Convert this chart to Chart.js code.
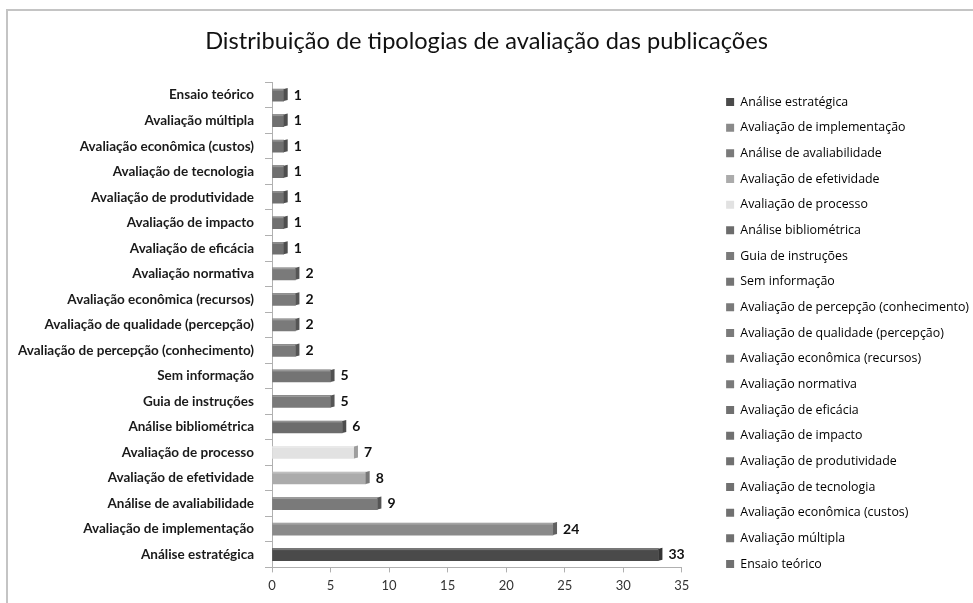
<!DOCTYPE html>
<html>
<head>
<meta charset="utf-8">
<script src="https://cdn.jsdelivr.net/npm/chart.js@4.4.1/dist/chart.umd.min.js"></script>
<style>
  html, body { margin: 0; padding: 0; background: #fff; }
  #wrap { position: relative; width: 973px; height: 603px; overflow: hidden; }
  #frame { position: absolute; left: 6px; top: 9px; right: -5px; bottom: -5px;
           border-left: 2px solid #c4c4c4; border-top: 2px solid #c4c4c4; pointer-events: none; }
  canvas { position: absolute; left: 0; top: 0; }
</style>
</head>
<body>
<div id="wrap">
  <canvas id="chart" width="973" height="603"></canvas>
  <div id="frame"></div>
</div>
<script>
// data, in legend order (bottom bar first)
const categories = [
  'Análise estratégica',
  'Avaliação de implementação',
  'Análise de avaliabilidade',
  'Avaliação de efetividade',
  'Avaliação de processo',
  'Análise bibliométrica',
  'Guia de instruções',
  'Sem informação',
  'Avaliação de percepção (conhecimento)',
  'Avaliação de qualidade (percepção)',
  'Avaliação econômica (recursos)',
  'Avaliação normativa',
  'Avaliação de eficácia',
  'Avaliação de impacto',
  'Avaliação de produtividade',
  'Avaliação de tecnologia',
  'Avaliação econômica (custos)',
  'Avaliação múltipla',
  'Ensaio teórico'
];
const values = [33, 24, 9, 8, 7, 6, 5, 5, 2, 2, 2, 2, 1, 1, 1, 1, 1, 1, 1];
const barColors = [
  '#4a4a4a', '#8a8a8a', '#7a7a7a', '#ababab', '#e2e2e2', '#6c6c6c', '#7a7a7a',
  '#747474', '#7a7a7a', '#7a7a7a', '#7a7a7a', '#7a7a7a', '#707070', '#707070',
  '#707070', '#707070', '#707070', '#707070', '#707070'
];
const xTickValues = [0, 5, 10, 15, 20, 25, 30, 35];

function shade(hex, amt) {
  const n = parseInt(hex.slice(1), 16);
  let r = n >> 16, g = (n >> 8) & 255, b = n & 255;
  const f = c => Math.max(0, Math.min(255, Math.round(amt < 0 ? c * (1 + amt) : c + (255 - c) * amt)));
  return `rgb(${f(r)},${f(g)},${f(b)})`;
}

// fake 3D end cap + value labels
const barExtras = {
  id: 'barExtras',
  afterDatasetsDraw(chart) {
    const ctx = chart.ctx;
    const meta = chart.getDatasetMeta(0);
    ctx.save();
    meta.data.forEach((bar, i) => {
      const p = bar.getProps(['x', 'y', 'base', 'height'], true);
      const top = p.y - p.height / 2;
      // top highlight
      ctx.fillStyle = shade(barColors[i], 0.25);
      ctx.fillRect(p.base, top, p.x - p.base, 1.5);
      // end cap
      ctx.fillStyle = shade(barColors[i], -0.3);
      ctx.beginPath();
      ctx.moveTo(p.x, top);
      ctx.lineTo(p.x + 4, top - 1);
      ctx.lineTo(p.x + 4, top + p.height - 1);
      ctx.lineTo(p.x, top + p.height);
      ctx.closePath();
      ctx.fill();
      // value
      ctx.fillStyle = '#111';
      ctx.font = 'bold 14px Lato, "Open Sans", sans-serif';
      ctx.textBaseline = 'middle';
      ctx.textAlign = 'left';
      ctx.fillText(values[i], p.x + 10, p.y);
    });
    ctx.restore();
  }
};

// push the legend a bit right / down after layout
const legendNudge = {
  id: 'legendNudge',
  afterLayout(chart) {
    const l = chart.legend;
    if (!l) return;
    l.left += 6; l.right += 6;
    l.top += 33; l.bottom += 33;
  }
};

const ctx = document.getElementById('chart').getContext('2d');
const myChart = new Chart(ctx, {
  type: 'bar',
  data: {
    labels: categories,
    datasets: [{
      label: 'Publicações',
      data: values,
      backgroundColor: barColors,
      borderWidth: 0,
      barThickness: 12
    }]
  },
  options: {
    indexAxis: 'y',
    responsive: false,
    animation: false,
    layout: { padding: { left: 0, right: 0, top: 0, bottom: 3 } },
    scales: {
      x: {
        min: 0,
        max: 35,
        afterBuildTicks: scale => { scale.ticks = xTickValues.map(v => ({ value: v })); },
        grid: { drawOnChartArea: false, drawTicks: true, tickLength: 5, color: '#b0b0b0' },
        border: { color: '#b0b0b0', width: 1 },
        ticks: { color: '#333', padding: 6, font: { family: 'Lato, "Open Sans", sans-serif', size: 13 } }
      },
      y: {
        reverse: true,
        afterFit: scale => { scale.width = 272; },
        grid: { drawOnChartArea: false, drawTicks: true, tickLength: 7, offset: true, color: '#b0b0b0' },
        border: { color: '#b0b0b0', width: 1 },
        ticks: { color: '#1a1a1a', padding: 11, autoSkip: false,
                 font: { family: 'Lato, "Open Sans", sans-serif', size: 13.5, weight: 'bold' } }
      },
      gap: {
        type: 'linear',
        position: 'right',
        display: true,
        afterFit: scale => { scale.width = 25; },
        grid: { display: false },
        border: { display: false },
        ticks: { display: false }
      }
    },
    plugins: {
      title: {
        display: true,
        text: 'Distribuição de tipologias de avaliação das publicações',
        color: '#111',
        font: { family: 'Lato, "Open Sans", sans-serif', size: 23.6, weight: 'normal' },
        padding: { top: 27, bottom: 27 }
      },
      legend: {
        position: 'right',
        maxWidth: 400,
        labels: {
          boxWidth: 8,
          boxHeight: 8,
          padding: 13.27,
          color: '#333',
          font: { family: '"Open Sans", sans-serif', size: 12.4 },
          generateLabels: chart => categories.map((c, i) => ({
            text: c,
            fillStyle: barColors[i],
            strokeStyle: barColors[i],
            lineWidth: 0,
            hidden: false,
            index: i
          }))
        }
      },
      tooltip: { enabled: false }
    }
  },
  plugins: [barExtras, legendNudge]
});
</script>
</body>
</html>
